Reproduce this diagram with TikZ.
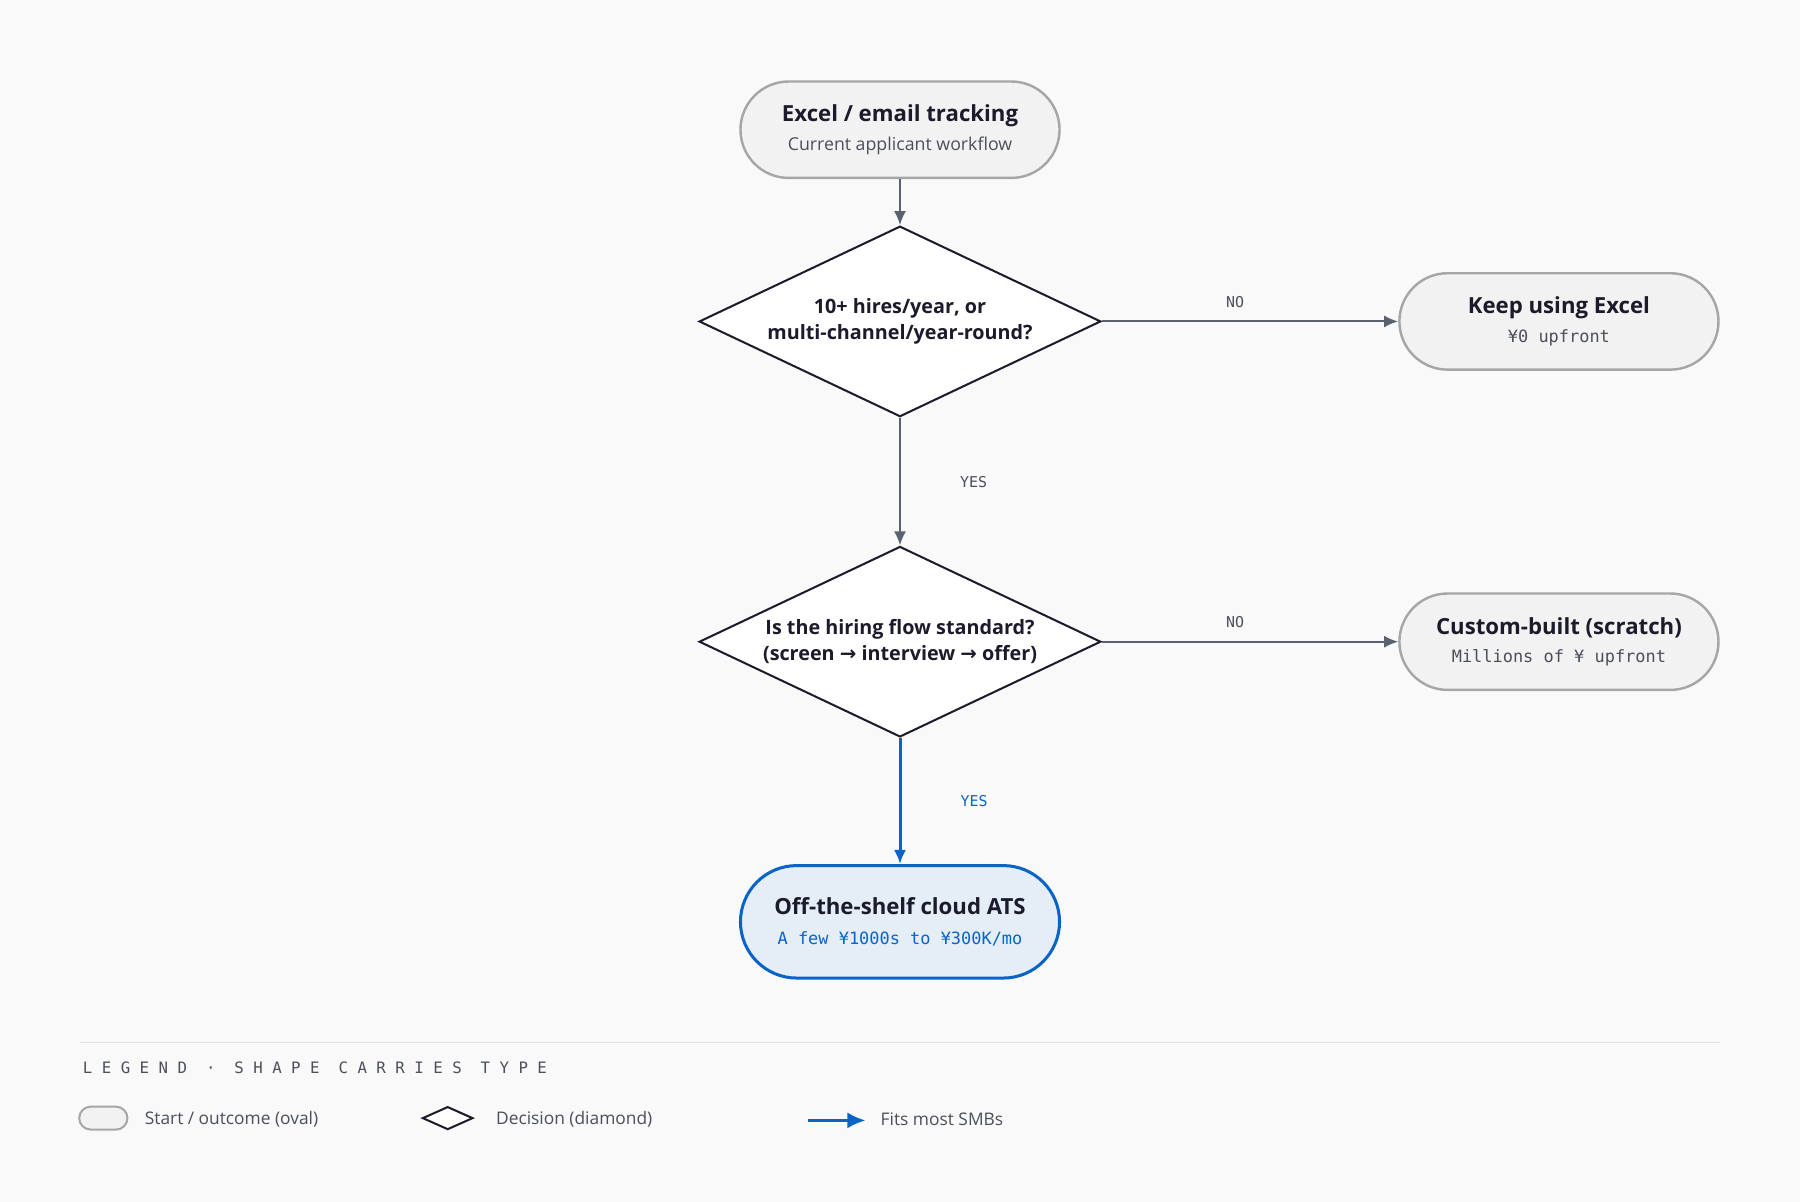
\documentclass[tikz,border=0pt]{standalone}
\usepackage{fontspec}
\setmainfont{Open Sans}
\newfontfamily\monof{DejaVu Sans Mono}
\usetikzlibrary{shapes.geometric,arrows.meta}
\definecolor{bg}{HTML}{F9F9F9}
\definecolor{ovalf}{HTML}{F2F2F2}
\definecolor{ovald}{HTML}{A6A6A6}
\definecolor{ink}{HTML}{1B1B2B}
\definecolor{sub}{HTML}{4A4F5A}
\definecolor{arr}{HTML}{5A6270}
\definecolor{blu}{HTML}{0A64C8}
\definecolor{bluf}{HTML}{E5EDF6}
\tikzset{
 oval/.style={draw=ovald,fill=ovalf,line width=1.2pt,rounded corners=0.84cm,minimum width=5.56cm,minimum height=1.68cm,align=center,text=ink},
 dia/.style={diamond,draw=ink,fill=white,line width=1pt,minimum width=7cm,minimum height=3.32cm,aspect=2.1,inner sep=0pt,align=center,text=ink,font=\fontsize{9.8}{13}\selectfont\bfseries},
 ar/.style={draw=arr,line width=1pt,-{Latex[length=7pt,width=6pt]}},
 lab/.style={font=\monof\fontsize{7.4}{9}\selectfont,text=sub},
 ttl/.style={font=\fontsize{11}{14}\selectfont\bfseries},
}
\begin{document}
\begin{tikzpicture}[x=0.02cm,y=-0.02cm]
\useasboundingbox[fill=bg] (0,0) rectangle (1568,1047);
\node[oval] (s) at (784,113) {{\fontsize{11}{14}\selectfont\bfseries Excel / email tracking}\\[2pt]{\fontsize{8.8}{11}\selectfont\color{sub}Current applicant workflow}};
\node[dia] (d1) at (784,280) {10+ hires/year, or\\multi-channel/year-round?};
\node[oval] (k) at (1358,280) {{\fontsize{11}{14}\selectfont\bfseries Keep using Excel}\\[2pt]{\monof\fontsize{8.4}{11}\selectfont\color{sub}¥0 upfront}};
\node[dia] (d2) at (784,559) {Is the hiring flow standard?\\(screen {\fontspec{DejaVu Sans}\bfseries→} interview {\fontspec{DejaVu Sans}\bfseries→} offer)};
\node[oval] (c) at (1358,559) {{\fontsize{11}{14}\selectfont\bfseries Custom-built (scratch)}\\[2pt]{\monof\fontsize{8.4}{11}\selectfont\color{sub}Millions of ¥ upfront}};
\node[oval,draw=blu,fill=bluf,line width=1.5pt,rounded corners=0.98cm,minimum height=1.96cm] (a) at (784,803) {{\fontsize{11}{14}\selectfont\bfseries Off-the-shelf cloud ATS}\\[3pt]{\monof\fontsize{8.4}{11}\selectfont\color{blu}A few ¥1000s to ¥300K/mo}};
\draw[ar] (s) -- (d1);
\draw[ar] (d1) -- node[lab,pos=0.45,above=3pt]{NO} (k);
\draw[ar] (d1) -- node[lab,right=26pt]{YES} (d2);
\draw[ar] (d2) -- node[lab,pos=0.45,above=3pt]{NO} (c);
\draw[ar,draw=blu,line width=1.5pt] (d2) -- node[lab,text=blu,right=26pt]{YES} (a);
% legend
\coordinate (l1) at (70,908); \coordinate (l2) at (1498,908);
\draw[draw=black!12,line width=0.8pt] (l1) -- (l2);
\node[lab,anchor=west,font=\monof\fontsize{7.8}{9}\selectfont] (lt) at (66,930) {L E G E N D \ · \ S H A P E \ C A R R I E S \ T Y P E};
\node[draw=ovald,fill=ovalf,line width=1pt,rounded corners=0.2cm,minimum width=0.84cm,minimum height=0.4cm,inner sep=0pt] (lo) at (90,974) {};
\node[anchor=west,text=sub,font=\fontsize{8.6}{11}\selectfont] (lot) at (120,975) {Start / outcome (oval)};
\node[diamond,draw=ink,fill=white,line width=1pt,minimum width=0.88cm,minimum height=0.4cm,aspect=2.2,inner sep=0pt] (ld) at (390,974) {};
\node[anchor=west,text=sub,font=\fontsize{8.6}{11}\selectfont] (ldt) at (426,975) {Decision (diamond)};
\coordinate (b1) at (704,976); \coordinate (b2) at (754,976);
\draw[draw=blu,line width=1.5pt,-{Latex[length=9pt,width=8pt]}] (b1) -- (b2);
\node[anchor=west,text=sub,font=\fontsize{8.6}{11}\selectfont] (lbt) at (761,975) {Fits most SMBs};
\end{tikzpicture}
\end{document}
